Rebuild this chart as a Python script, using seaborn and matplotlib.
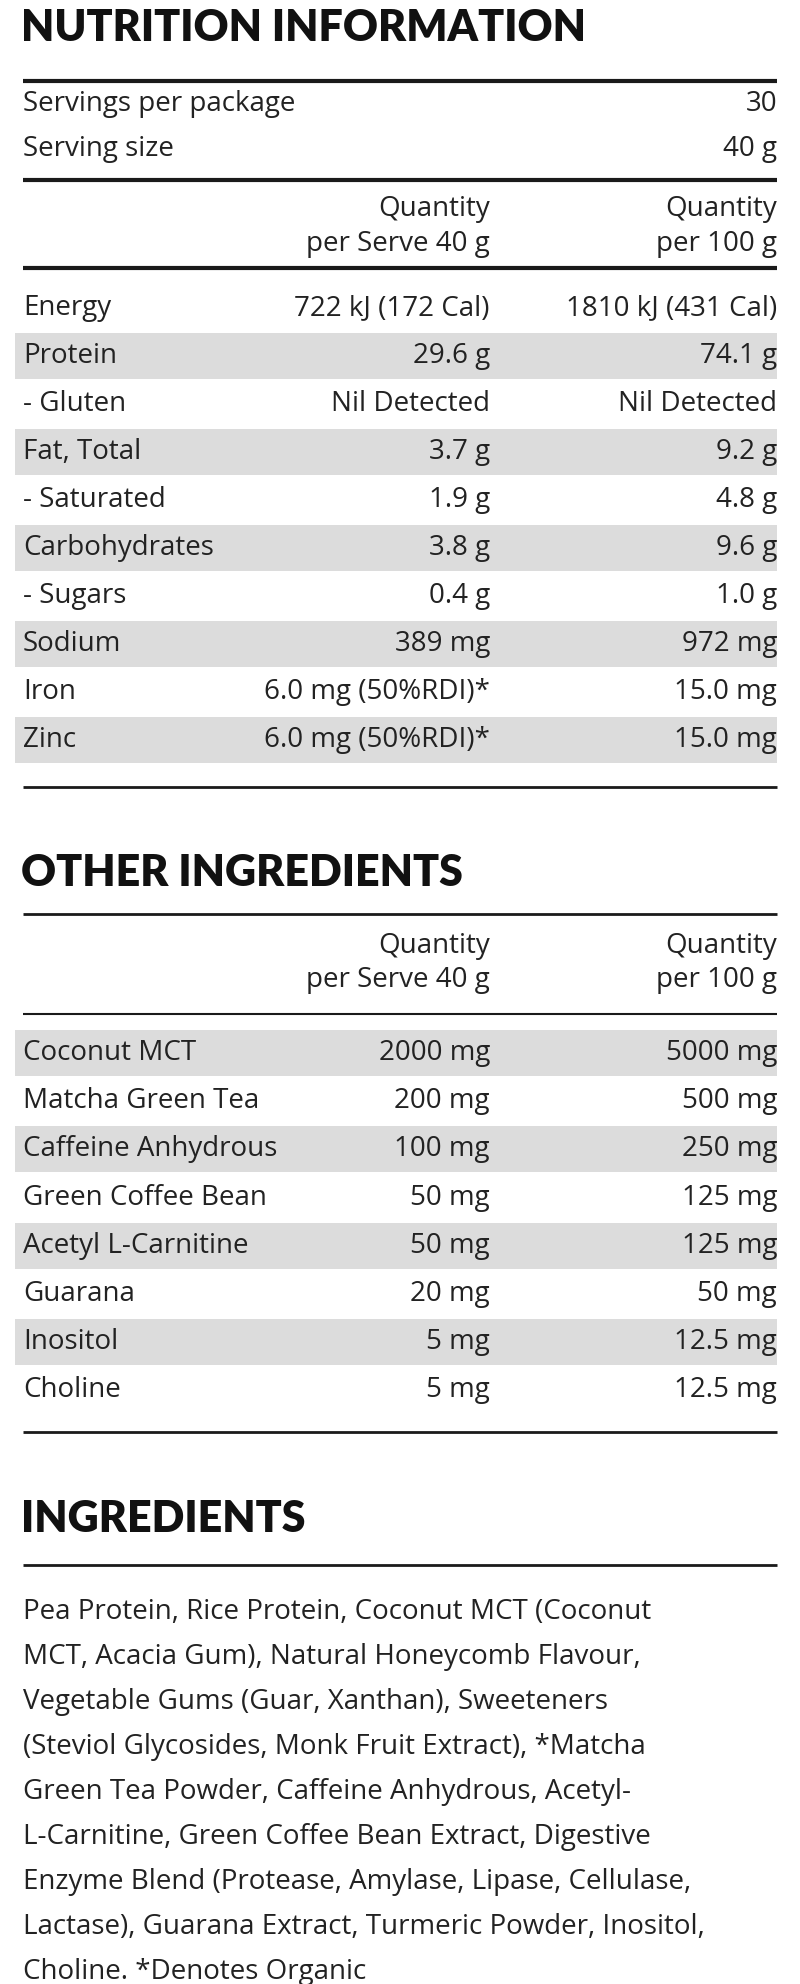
import matplotlib
matplotlib.use("Agg")
import matplotlib.pyplot as plt
import seaborn as sns

sns.set_theme(style="white")
plt.rcParams['font.family'] = ['Open Sans', 'DejaVu Sans']

servings = [("Servings per package", "30"), ("Serving size", "40 g")]
nut_names = ["Energy", "Protein", "- Gluten", "Fat, Total", "- Saturated",
             "Carbohydrates", "- Sugars", "Sodium", "Iron", "Zinc"]
nut_serve = ["722 kJ (172 Cal)", "29.6 g", "Nil Detected", "3.7 g", "1.9 g",
             "3.8 g", "0.4 g", "389 mg", "6.0 mg (50%RDI)*", "6.0 mg (50%RDI)*"]
nut_100 = ["1810 kJ (431 Cal)", "74.1 g", "Nil Detected", "9.2 g", "4.8 g",
           "9.6 g", "1.0 g", "972 mg", "15.0 mg", "15.0 mg"]
oth_names = ["Coconut MCT", "Matcha Green Tea", "Caffeine Anhydrous", "Green Coffee Bean",
             "Acetyl L-Carnitine", "Guarana", "Inositol", "Choline"]
oth_serve = ["2000 mg", "200 mg", "100 mg", "50 mg", "50 mg", "20 mg", "5 mg", "5 mg"]
oth_100 = ["5000 mg", "500 mg", "250 mg", "125 mg", "125 mg", "50 mg", "12.5 mg", "12.5 mg"]
ingredients_lines = [
    "Pea Protein, Rice Protein, Coconut MCT (Coconut",
    "MCT, Acacia Gum), Natural Honeycomb Flavour,",
    "Vegetable Gums (Guar, Xanthan), Sweeteners",
    "(Steviol Glycosides, Monk Fruit Extract), *Matcha",
    "Green Tea Powder, Caffeine Anhydrous, Acetyl-",
    "L-Carnitine, Green Coffee Bean Extract, Digestive",
    "Enzyme Blend (Protease, Amylase, Lipase, Cellulase,",
    "Lactase), Guarana Extract, Turmeric Powder, Inositol,",
    "Choline. *Denotes Organic",
]

W, H = 800, 1984
fig = plt.figure(figsize=(8, 19.84), dpi=100)
ax = fig.add_axes([0, 0, 1, 1])
ax.set_xlim(0, W); ax.set_ylim(H, 0); ax.axis("off")

L, R, C1 = 23, 777, 490
FS = 20
TC = "#222222"
SH = "#dcdcdc"

def hline(y, lw=2.5):
    ax.plot([L, R], [y, y], color="#1a1a1a", lw=lw, solid_capstyle="butt")

def title(y, s):
    ax.text(L - 2, y, s, fontsize=31, fontweight="heavy", color="#111111",
            va="center", ha="left", family=["Lato", "DejaVu Sans"])

def row(y, a, b, c, shade):
    if shade:
        ax.fill_between([15, R], y - 23, y + 23, color=SH, lw=0)
    ax.text(L, y, a, fontsize=FS, color=TC, va="center", ha="left")
    if b:
        ax.text(C1, y, b, fontsize=FS, color=TC, va="center", ha="right")
    ax.text(R, y, c, fontsize=FS, color=TC, va="center", ha="right")

title(28, "NUTRITION INFORMATION")
hline(81, 3)
for i, (a, c) in enumerate(servings):
    row(104 + i * 45, a, None, c, False)
hline(180, 3)
ax.text(C1, 209, "Quantity", fontsize=FS, color=TC, va="center", ha="right")
ax.text(C1, 244, "per Serve 40 g", fontsize=FS, color=TC, va="center", ha="right")
ax.text(R, 209, "Quantity", fontsize=FS, color=TC, va="center", ha="right")
ax.text(R, 244, "per 100 g", fontsize=FS, color=TC, va="center", ha="right")
hline(268, 3)
for i in range(len(nut_names)):
    row(308 + i * 48, nut_names[i], nut_serve[i], nut_100[i], i % 2 == 1)
hline(787, 2)

title(873, "OTHER INGREDIENTS")
hline(914, 2)
ax.text(C1, 946, "Quantity", fontsize=FS, color=TC, va="center", ha="right")
ax.text(C1, 980, "per Serve 40 g", fontsize=FS, color=TC, va="center", ha="right")
ax.text(R, 946, "Quantity", fontsize=FS, color=TC, va="center", ha="right")
ax.text(R, 980, "per 100 g", fontsize=FS, color=TC, va="center", ha="right")
hline(1014, 1.5)
for i in range(len(oth_names)):
    row(1053 + i * 48.2, oth_names[i], oth_serve[i], oth_100[i], i % 2 == 0)
hline(1432, 2)

title(1519, "INGREDIENTS")
hline(1565, 2)
for i, s in enumerate(ingredients_lines):
    ax.text(L, 1612 + i * 45, s, fontsize=FS, color=TC, va="center", ha="left")

fig.savefig("out.png", dpi=100, facecolor="white")
